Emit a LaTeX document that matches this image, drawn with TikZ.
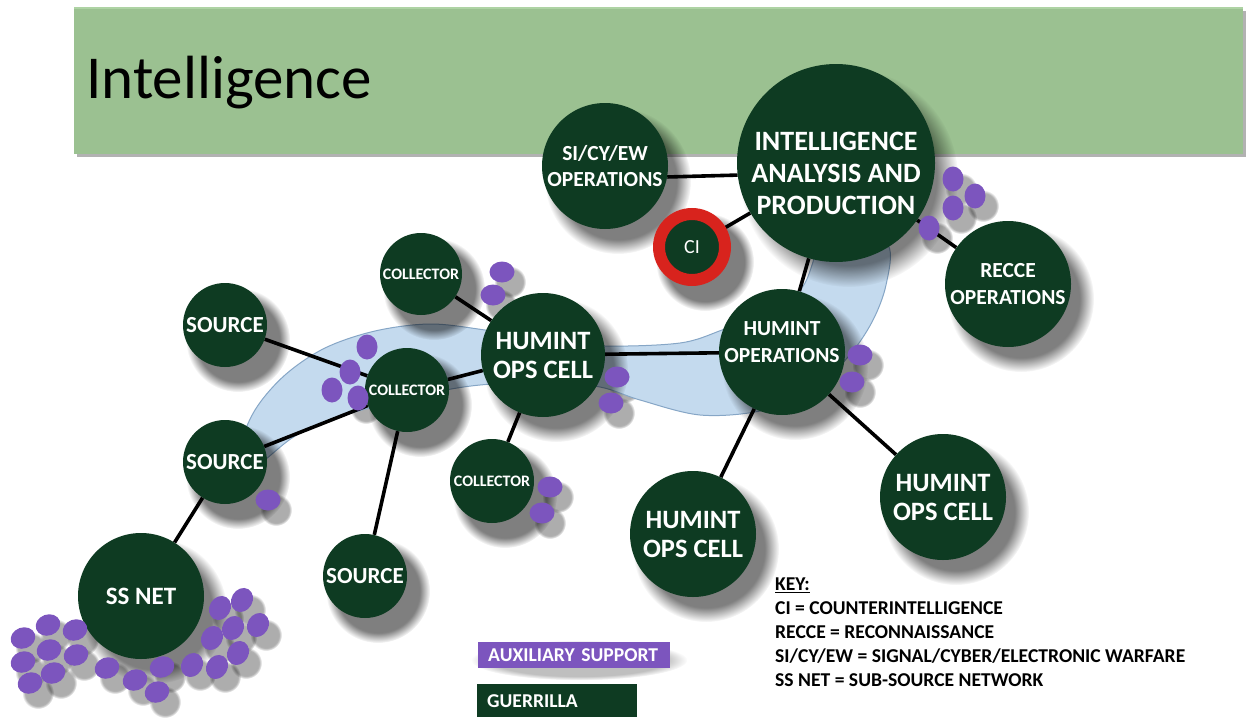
\documentclass[tikz,border=0pt]{standalone}
\usepackage{fontspec}
\setmainfont{Carlito}
\usetikzlibrary{fadings}
\definecolor{dgreen}{HTML}{0E3B22}
\definecolor{bannerg}{HTML}{9BC191}
\definecolor{bannerl}{HTML}{AED3A4}
\definecolor{purp}{HTML}{7C55BE}
\definecolor{bandb}{HTML}{C4DAEE}
\definecolor{bandl}{HTML}{86A6C6}
\definecolor{cired}{HTML}{D8231D}
\pgfdeclarelayer{bg}
\pgfsetlayers{bg,main}
\newcommand\fIAP{\bfseries\fontsize{28}{32}\selectfont}
\newcommand\fBig{\bfseries\fontsize{26.5}{29}\selectfont}
\newcommand\fMid{\bfseries\fontsize{21.5}{26.5}\selectfont}
\newcommand\fSrc{\bfseries\fontsize{23}{26}\selectfont}
\newcommand\fCol{\bfseries\fontsize{16}{19}\selectfont}
\newcommand\fKey{\bfseries\fontsize{19.6}{24}\selectfont}
\tikzset{
  gnode/.style={circle, fill=dgreen, text=white, inner sep=0pt, align=center},
  gtext/.style={text=white, inner sep=0pt, align=center},
  bignode/.style={gnode, minimum size=126, font=\fBig},
  midnode/.style={gnode, minimum size=126, font=\fMid},
  smallnode/.style={gnode, minimum size=84},
  conn/.style={line width=3.6pt, black},
  shadowst/.style={black, opacity=0.5, path fading=circle with fuzzy edge 20 percent},
  dotst/.style={fill=purp},
  dotshadow/.style={black, opacity=0.32, path fading=circle with fuzzy edge 20 percent},
}
\begin{document}
\begin{tikzpicture}[x=1pt,y=-1pt]
\useasboundingbox (0,0) rectangle (1249,717);
% ---------- nodes ----------
\node[midnode] (si) at (605,166) {SI/CY/EW\\OPERATIONS};
\node[gnode, minimum size=198] (iap) at (836,163) {};
\node[gtext, font=\fIAP, yshift=-10] (iaptext) at (iap.center) {INTELLIGENCE\\ANALYSIS AND\\PRODUCTION};
\node[gnode, draw=cired, line width=12pt, minimum size=66, font=\fontsize{20}{22}\selectfont] (ci) at (692,247) {CI};
\node[midnode] (recce) at (1008,284) {RECCE\\OPERATIONS};
\node[gnode, minimum size=126] (hops) at (782,352) {};
\node[gtext, font=\fMid, yshift=10] (hopstext) at (hops.center) {HUMINT\\OPERATIONS};
\node[bignode, minimum size=124] (hcell) at (543,355) {HUMINT\\OPS CELL};
\node[bignode] (hcellb) at (693,534) {HUMINT\\OPS CELL};
\node[bignode] (hcellr) at (943,497) {HUMINT\\OPS CELL};
\node[smallnode, minimum size=82, font=\fCol] (coltop) at (421,274) {COLLECTOR};
\node[smallnode, font=\fCol] (colmid) at (407,390) {COLLECTOR};
\node[smallnode, font=\fCol] (colbot) at (492,481) {COLLECTOR};
\node[smallnode, font=\fSrc] (srctop) at (225,325) {SOURCE};
\node[smallnode, font=\fSrc] (srcmid) at (225,462) {SOURCE};
\node[smallnode, font=\fSrc] (srcbot) at (365,576) {SOURCE};
\node[gnode, minimum size=126, font=\bfseries\fontsize{25}{28}\selectfont] (ssnet) at (141,596) {SS NET};
% ---------- auxiliary dots ----------
\foreach \x/\y/\a in {953/179/90, 975/196/90, 953/208/90, 929/228/90,
  502/272/0, 493/295/0,
  367/347/90, 350/372/90, 332/390/90, 358/398/90,
  617/377/0, 611/403/0, 860/355/0, 852/382/0,
  268/500/0, 550/487/0, 542/513/0,
  23/638/20, 48/625/20, 75/630/20, 23/662/20, 49/650/20, 76/655/20, 30/683/20, 53/673/20,
  107/668/20, 135/680/20, 162/667/20, 157/692/20,
  192/665/60, 217/667/60, 238/653/60, 212/638/60, 233/628/60, 258/625/60, 220/608/60, 242/600/60}
{
  \fill[dotst, rotate around={\a:(\x,\y)}] (\x,\y) ellipse [x radius=12.5, y radius=10.5];
  \begin{pgfonlayer}{bg}
    \fill[dotshadow] (\x+8,\y+10) circle (16);
  \end{pgfonlayer}
}
% ---------- legend ----------
\node[fill=purp, text=white, anchor=north west, minimum width=192, minimum height=26,
  inner xsep=10, text width=172, align=left, font=\fKey] (aux) at (478,642) {AUXILIARY SUPPORT};
\node[fill=dgreen, text=white, anchor=north west, minimum width=160, minimum height=33,
  inner xsep=10, text width=140, align=left, font=\fKey] (guer) at (477,684) {GUERRILLA};
\node[anchor=north west, align=left, inner sep=0pt, font=\fKey] (key) at (775,578)
  {\underline{KEY:}\\CI = COUNTERINTELLIGENCE\\RECCE = RECONNAISSANCE\\SI/CY/EW = SIGNAL/CYBER/ELECTRONIC WARFARE\\SS NET = SUB-SOURCE NETWORK};
% ---------- background layer ----------
\begin{pgfonlayer}{bg}
  % banner
  \fill[black, opacity=0.3] (77,11) rectangle (1246,157);
  \fill[bannerg] (74,7) rectangle (1243,154);
  \draw[bannerl, line width=1.5pt] (74,8) -- (1243,8);
  \node[anchor=base west, inner sep=0pt, font=\fontsize{61}{70}\selectfont] (title) at (86,98) {Intelligence};
  % band
  \filldraw[fill=bandb, draw=bandl, line width=1pt] plot[smooth cycle, tension=0.55] coordinates {
    (238,452) (255,410) (285,375) (325,348) (375,331) (430,324) (485,330) (545,340) (605,346)
    (680,343) (722,330) (765,312) (800,290) (813,262) (818,240)
    (850,232) (888,245)
    (886,285) (872,322) (848,357) (810,392) (760,411) (700,415) (640,400) (600,387)
    (545,382) (480,385) (430,393) (385,404) (335,418) (295,436) (262,462) (245,470)};
  % node shadows
  \foreach \n/\r in {si/63, iap/99, ci/39, recce/63, hops/63, hcell/62, hcellb/63, hcellr/63,
      coltop/41, colmid/42, colbot/42, srctop/42, srcmid/42, srcbot/42, ssnet/63}
    \fill[shadowst] ([shift={(13,15)}]\n.center) circle (\r+10);
  \fill[black, opacity=0.25, path fading=circle with fuzzy edge 20 percent] ([shift={(5,5)}]aux.center) ellipse [x radius=108, y radius=20];
  % connectors
  \draw[conn] (si.-10) -- (iap.187);
  \draw[conn] (ci) -- (iap);
  \draw[conn] (iap) -- (recce);
  \draw[conn] (iap) -- (hops);
  \draw[conn] (hops) -- (hcell);
  \draw[conn] (hops) -- (hcellb);
  \draw[conn] (hops) -- (hcellr);
  \draw[conn] (hcell) -- (coltop);
  \draw[conn] (hcell) -- (colmid);
  \draw[conn] (hcell) -- (colbot);
  \draw[conn] (colmid) -- (srctop);
  \draw[conn] (colmid) -- (srcmid);
  \draw[conn] (colmid) -- (srcbot);
  \draw[conn] (srcmid) -- (ssnet);
\end{pgfonlayer}
\end{tikzpicture}
\end{document}
